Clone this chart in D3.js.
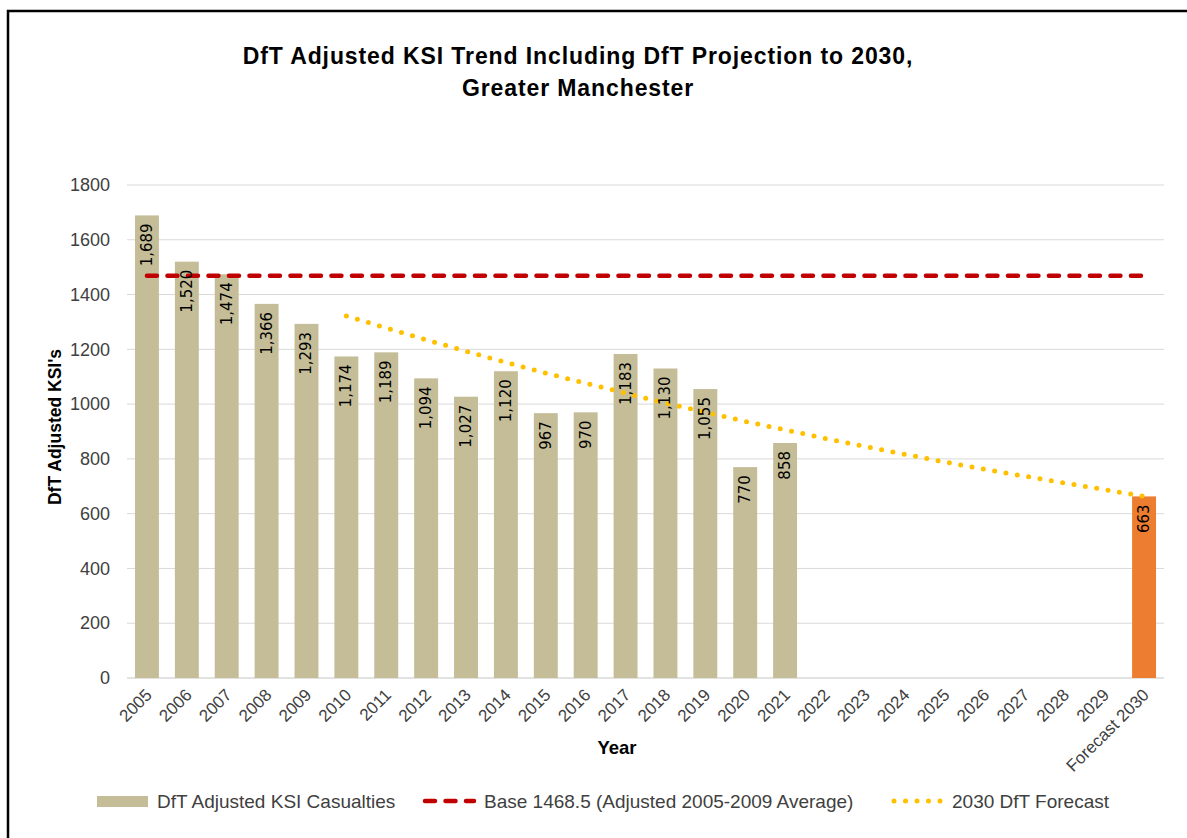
<!DOCTYPE html>
<html>
<head>
<meta charset="utf-8">
<script src="https://cdn.jsdelivr.net/npm/d3@7"></script>
<style>
  html, body { margin: 0; padding: 0; background: #fff; }
  svg { display: block; }
</style>
</head>
<body>
<svg id="chart" width="1187" height="838"></svg>
<script>
// ---------- DATA ----------
const categories = ["2005","2006","2007","2008","2009","2010","2011","2012","2013","2014",
  "2015","2016","2017","2018","2019","2020","2021","2022","2023","2024","2025","2026",
  "2027","2028","2029","Forecast 2030"];
const casualtyYears = ["2005","2006","2007","2008","2009","2010","2011","2012","2013","2014",
  "2015","2016","2017","2018","2019","2020","2021"];
const casualtyValues = [1689,1520,1474,1366,1293,1174,1189,1094,1027,1120,967,970,1183,1130,1055,770,858];
const forecastBarCategory = "Forecast 2030";
const forecastBarValue = 663;
const baseValue = 1468.5;
const forecastCategories = ["2010","2011","2012","2013","2014","2015","2016","2017","2018","2019",
  "2020","2021","2022","2023","2024","2025","2026","2027","2028","2029","Forecast 2030"];
const forecastValues = [1322,1278,1235,1193,1152,1113,1076,1040,1004,970,937,906,875,845,817,789,762,737,712,688,663];
const yTicks = [0,200,400,600,800,1000,1200,1400,1600,1800];
const titleLines = ["DfT Adjusted KSI Trend Including DfT Projection to 2030,", "Greater Manchester"];
const yAxisTitle = "DfT Adjusted KSI's";
const xAxisTitle = "Year";
const legendLabels = ["DfT Adjusted KSI Casualties", "Base 1468.5 (Adjusted 2005-2009 Average)", "2030 DfT Forecast"];

// ---------- STYLE ----------
const C_BAR = "#c4bd97", C_FORECAST_BAR = "#ed7d31", C_BASE = "#c00000", C_DOT = "#ffc000";
const C_GRID = "#d9d9d9", C_TEXT = "#404040";
const FONT = "'Liberation Sans', Arial, sans-serif";
const LABEL_FONT = "'DejaVu Sans', Verdana, sans-serif";

const svg = d3.select("#chart");
svg.append("rect").attr("width",1187).attr("height",838).attr("fill","#fff");
// border
svg.append("path").attr("d","M8,838 V11 H1187").attr("fill","none").attr("stroke","#000").attr("stroke-width",2.5);

const x = d3.scaleBand().domain(categories).range([127,1164]).paddingInner(0.4).paddingOuter(0.2);
const y = d3.scaleLinear().domain([0,1800]).range([678,185]);
const cx = c => x(c) + x.bandwidth()/2;

// title
svg.append("text").attr("x", 578).attr("y", 0)
  .attr("text-anchor","middle").attr("font-family",FONT).attr("font-weight","bold")
  .attr("font-size",23).attr("letter-spacing",0.9).attr("fill","#000")
  .selectAll("tspan").data(titleLines).join("tspan")
  .attr("x",578).attr("y",(d,i)=>64+i*32).text(d=>d);

// gridlines
svg.append("g").selectAll("line").data(yTicks).join("line")
  .attr("x1",127).attr("x2",1164).attr("y1",d=>y(d)).attr("y2",d=>y(d))
  .attr("stroke",C_GRID).attr("stroke-width",d=>d===0?1.5:1);

// y axis
const yAxis = svg.append("g").attr("transform","translate(127,0)")
  .call(d3.axisLeft(y).tickValues(yTicks).tickSize(0).tickPadding(17).tickFormat(d3.format("d")));
yAxis.select(".domain").remove();
yAxis.selectAll("text").attr("font-family",FONT).attr("font-size",18).attr("fill",C_TEXT);

// x axis
const xAxis = svg.append("g").attr("transform","translate(0,678)")
  .call(d3.axisBottom(x).tickSize(0).tickPadding(0));
xAxis.select(".domain").remove();
xAxis.selectAll("text")
  .attr("font-family",FONT).attr("font-size",17).attr("fill",C_TEXT)
  .attr("text-anchor","end").attr("dy",0)
  .attr("transform","translate(6,18) rotate(-45)");

// bars
const barData = casualtyYears.map((c,i)=>({c, v: casualtyValues[i], col: C_BAR}));
barData.push({c: forecastBarCategory, v: forecastBarValue, col: C_FORECAST_BAR});
svg.append("g").selectAll("rect").data(barData).join("rect")
  .attr("x",d=>x(d.c)).attr("width",x.bandwidth())
  .attr("y",d=>y(d.v)).attr("height",d=>y(0)-y(d.v))
  .attr("fill",d=>d.col);

// base line
svg.append("line")
  .attr("x1",cx(categories[0])).attr("x2",cx(categories[categories.length-1]))
  .attr("y1",y(baseValue)).attr("y2",y(baseValue))
  .attr("stroke",C_BASE).attr("stroke-width",4.5).attr("stroke-linecap","round")
  .attr("stroke-dasharray","10,10.5");

// forecast dotted line
const line = d3.line().x(d=>cx(d.c)).y(d=>y(d.v));
svg.append("path")
  .datum(forecastCategories.map((c,i)=>({c, v: forecastValues[i]})))
  .attr("d",line).attr("fill","none")
  .attr("stroke",C_DOT).attr("stroke-width",5).attr("stroke-linecap","round")
  .attr("stroke-dasharray","0,11.5");

// data labels
const fmt = d3.format(",");
svg.append("g").selectAll("text").data(barData).join("text")
  .attr("transform",d=>`translate(${cx(d.c)},${y(d.v)+8}) rotate(-90)`)
  .attr("text-anchor","end").attr("dominant-baseline","central")
  .attr("font-family",LABEL_FONT).attr("font-size",15).attr("fill","#000")
  .text(d=>fmt(d.v));

// axis titles
svg.append("text").attr("transform","translate(55,427) rotate(-90)")
  .attr("text-anchor","middle").attr("dominant-baseline","central")
  .attr("font-family",FONT).attr("font-weight","bold").attr("font-size",17.5).attr("fill","#000")
  .text(yAxisTitle);
svg.append("text").attr("x",617).attr("y",754)
  .attr("text-anchor","middle")
  .attr("font-family",FONT).attr("font-weight","bold").attr("font-size",18.5).attr("fill","#000")
  .text(xAxisTitle);

// legend
const lg = svg.append("g").attr("font-family",FONT).attr("font-size",19).attr("fill",C_TEXT);
lg.append("rect").attr("x",97).attr("y",796).attr("width",51).attr("height",11).attr("fill",C_BAR);
lg.append("text").attr("x",157).attr("y",808).text(legendLabels[0]);
lg.append("line").attr("x1",425).attr("x2",474).attr("y1",801).attr("y2",801)
  .attr("stroke",C_BASE).attr("stroke-width",4.5).attr("stroke-linecap","round").attr("stroke-dasharray","10,10.5");
lg.append("text").attr("x",484).attr("y",808).text(legendLabels[1]);
lg.append("line").attr("x1",894).attr("x2",941).attr("y1",801).attr("y2",801)
  .attr("stroke",C_DOT).attr("stroke-width",5).attr("stroke-linecap","round").attr("stroke-dasharray","0,11.5");
lg.append("text").attr("x",952).attr("y",808).text(legendLabels[2]);
</script>
</body>
</html>
